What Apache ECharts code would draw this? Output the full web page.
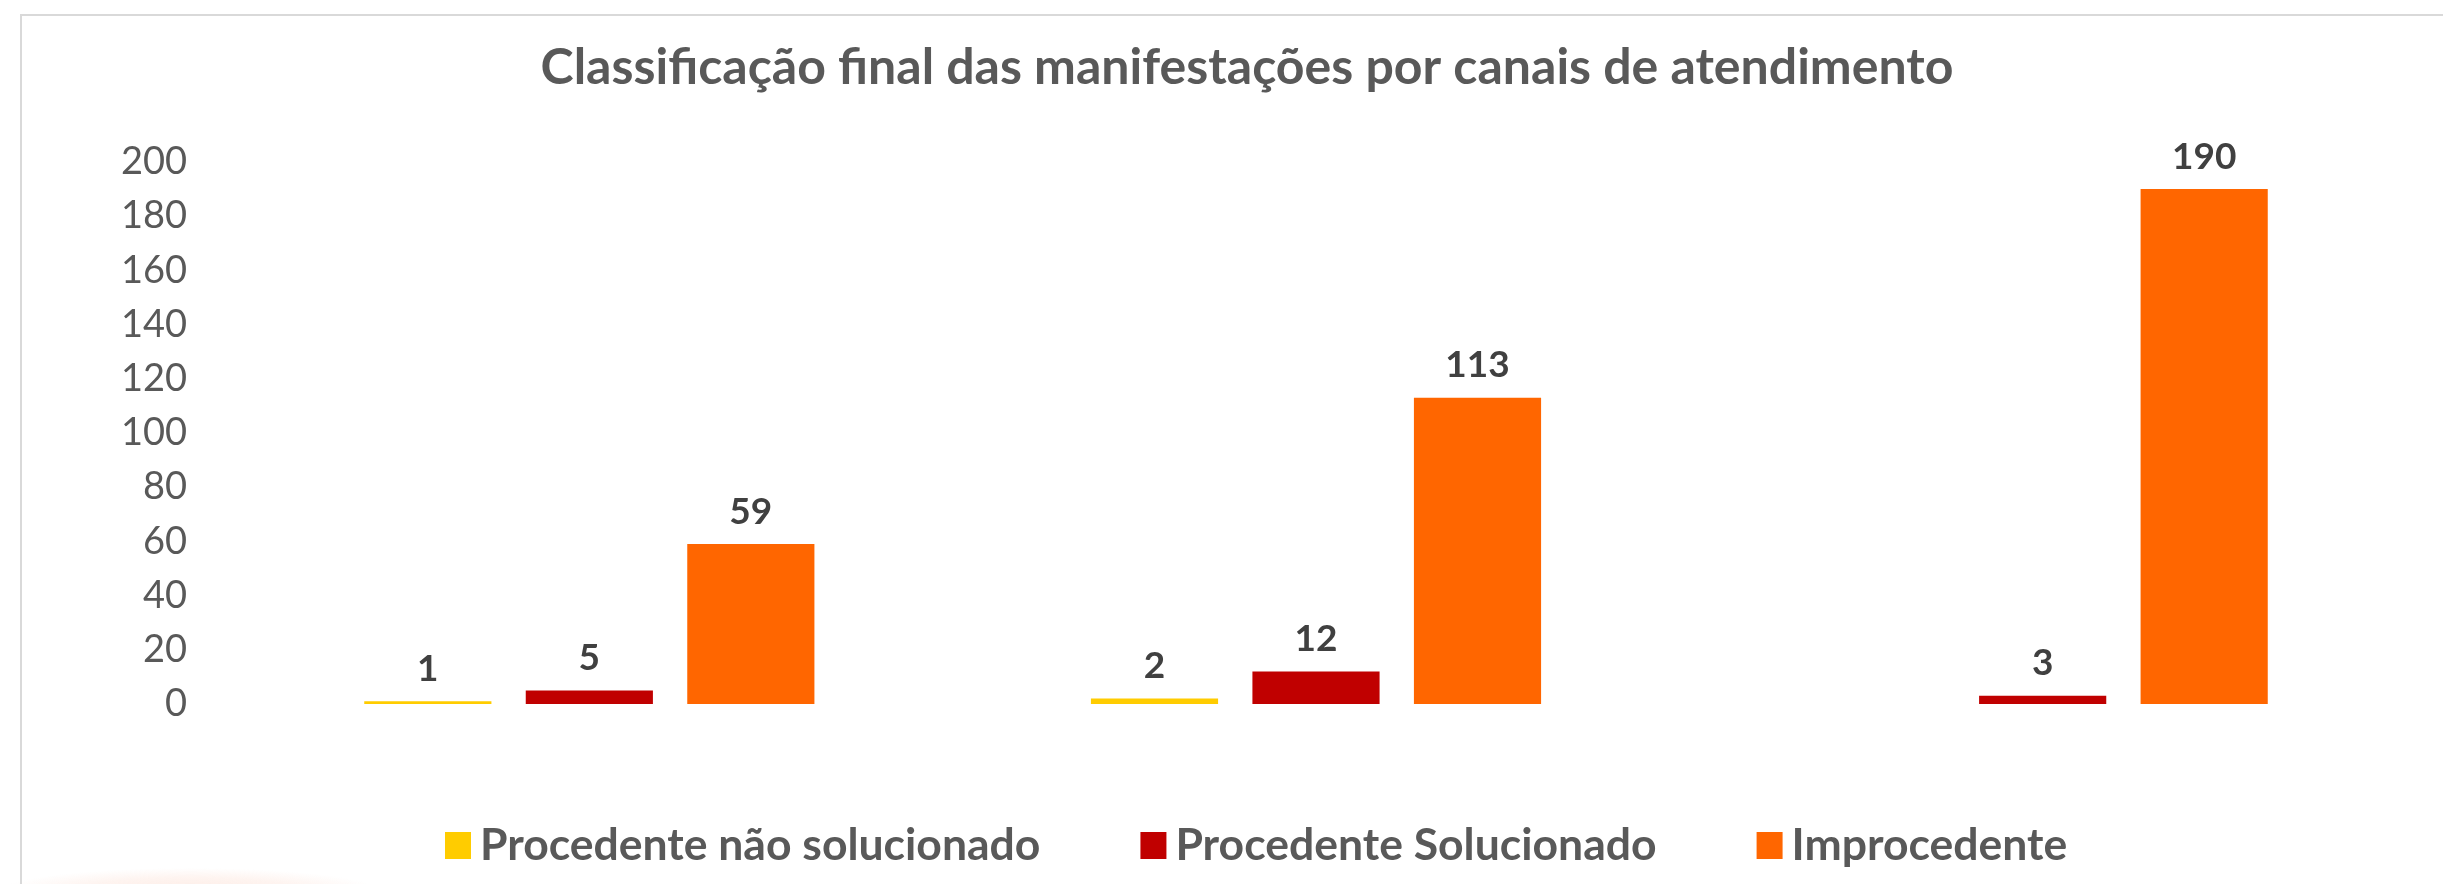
<!DOCTYPE html>
<html>
<head>
<meta charset="utf-8">
<script src="https://cdn.jsdelivr.net/npm/echarts@6/dist/echarts.min.js"></script>
<style>
  html, body { margin: 0; padding: 0; background: #fff; }
  #chart { width: 2443px; height: 884px; }
</style>
</head>
<body>
<div id="chart"></div>
<script>
const categories = ['Canal 1', 'Canal 2', 'Canal 3'];
const seriesNames = ['Procedente não solucionado', 'Procedente Solucionado', 'Improcedente'];
const naoSolucionado = [1, 2, 0];
const solucionado = [5, 12, 3];
const improcedente = [59, 113, 190];
const colors = ['#FFCC00', '#C00000', '#FF6600'];

const FONT = 'Lato';

function makeSeries(name, data, color) {
  return {
    type: 'bar',
    name: name,
    data: data,
    barWidth: '17.5%',
    barGap: '27%',
    itemStyle: { color: color },
    label: {
      show: true,
      position: 'top',
      distance: 14,
      fontFamily: FONT,
      fontWeight: 'bold',
      fontSize: 37,
      color: '#404040',
      // no label where the bar is empty
      formatter: p => (p.value === 0 ? '' : p.value)
    }
  };
}

const chart = echarts.init(document.getElementById('chart'), null, { renderer: 'canvas' });

chart.setOption({
  animation: false,
  color: colors,
  title: {
    text: 'Classificação final das manifestações por canais de atendimento',
    left: 1242,
    textAlign: 'center',
    top: 38,
    textStyle: {
      fontFamily: FONT,
      fontWeight: 'bold',
      fontSize: 50,
      color: '#595959'
    }
  },
  legend: {
    left: 440,
    top: 818,
    itemWidth: 26,
    itemHeight: 27,
    itemGap: 100,
    icon: 'rect',
    textStyle: {
      fontFamily: FONT,
      fontWeight: 'bold',
      fontSize: 44.5,
      color: '#595959',
      padding: [0, 0, 0, 4]
    },
    data: seriesNames
  },
  grid: {
    left: 226,
    right: 37,
    top: 162,
    bottom: 180,
    containLabel: false
  },
  xAxis: {
    type: 'category',
    data: categories,
    axisLine: { show: false },
    axisTick: { show: false },
    axisLabel: { show: false }
  },
  yAxis: {
    type: 'value',
    min: 0,
    max: 200,
    interval: 20,
    splitLine: { show: false },
    axisLine: { show: false },
    axisTick: { show: false },
    axisLabel: {
      margin: 39,
      fontFamily: FONT,
      fontSize: 38,
      color: '#595959'
    }
  },
  graphic: [
    {
      type: 'rect',
      shape: { x: 21, y: 15, width: 2500, height: 1000 },
      style: { fill: 'none', stroke: '#d9d9d9', lineWidth: 2 },
      silent: true
    },
    {
      // faint warm glow at the bottom left corner (circle stretched sideways)
      type: 'circle',
      x: 190,
      y: 892,
      scaleX: 8,
      shape: { cx: 0, cy: 0, r: 24 },
      style: {
        fill: new echarts.graphic.RadialGradient(0.5, 0.5, 0.5, [
          { offset: 0, color: 'rgba(250, 200, 180, 0.35)' },
          { offset: 0.6, color: 'rgba(250, 200, 180, 0.2)' },
          { offset: 1, color: 'rgba(250, 200, 180, 0)' }
        ])
      },
      silent: true,
      z: -1
    }
  ],
  series: [
    makeSeries(seriesNames[0], naoSolucionado, colors[0]),
    makeSeries(seriesNames[1], solucionado, colors[1]),
    makeSeries(seriesNames[2], improcedente, colors[2])
  ]
});
</script>
</body>
</html>
